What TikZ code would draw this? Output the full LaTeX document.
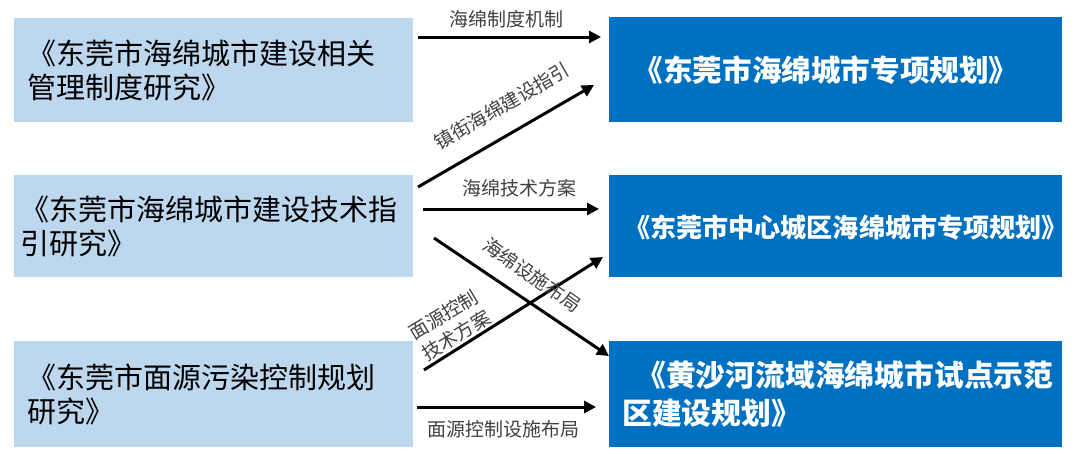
\documentclass[tikz,border=0pt]{standalone}
\usepackage{fontspec}
\setmainfont{Noto Sans CJK SC}
\usetikzlibrary{arrows.meta}
\definecolor{lightbox}{HTML}{BDD7EE}
\definecolor{darkbox}{HTML}{0070C0}
\definecolor{labelgray}{HTML}{404040}
\tikzset{
  srcbox/.style={rectangle, fill=lightbox, draw=none, minimum width=399pt, align=left, anchor=west,
    font=\fontsize{29}{34}\selectfont, text=black},
  dstbox/.style={rectangle, fill=darkbox, draw=none, minimum width=453pt, align=left,
    font=\fontsize{29.8}{38}\selectfont\bfseries, text=white},
  conn/.style={line width=3pt, -{Triangle[length=12pt,width=12pt]}},
  lbl/.style={inner sep=0pt, text=labelgray, font=\fontsize{19}{24}\selectfont}
}
\begin{document}
\begin{tikzpicture}[x=1pt,y=-1pt]
\useasboundingbox (0,0) rectangle (1080,453);
% source boxes
\node[srcbox, minimum height=104pt, inner xsep=13pt, text width=373pt] (L1) at (14,70)
  {《东莞市海绵城市建设相关\\管理制度研究》};
\node[srcbox, minimum height=102pt, inner xsep=6pt, text width=387pt] (L2) at (14,226)
  {《东莞市海绵城市建设技术指\\引研究》};
\node[srcbox, minimum height=106pt, inner xsep=13pt, text width=373pt] (L3) at (14,394)
  {《东莞市面源污染控制规划\\研究》};
% target boxes
\node[dstbox, minimum height=105pt] (R1) at (835.5,69.5) {};
\node[inner sep=0pt, text=white, font=\fontsize{29.6}{34}\selectfont\bfseries] (R1t) at (826,70) {《东莞市海绵城市专项规划》};
\node[dstbox, minimum height=102pt] (R2) at (835.5,226) {};
\node[inner sep=0pt, text=white, font=\fontsize{26.1}{30}\selectfont\bfseries] (R2t) at (846,228) {《东莞市中心城区海绵城市专项规划》};
\node[dstbox, minimum height=106pt, anchor=west, inner xsep=13pt, text width=427pt] (R3) at (609,394)
  {\hspace*{14pt}《黄沙河流域海绵城市试点示范\\区建设规划》};
% connector end points
\coordinate (a1s) at (418,37);  \coordinate (a1e) at (601,37);
\coordinate (a2s) at (418,187); \coordinate (a2e) at (594,85);
\coordinate (a3s) at (423,209); \coordinate (a3e) at (599,209);
\coordinate (a4s) at (434,238); \coordinate (a4e) at (609,356);
\coordinate (a5s) at (424,370); \coordinate (a5e) at (603,257);
\coordinate (a6s) at (417,407); \coordinate (a6e) at (596,407);
% connectors
\draw[conn] (a1s) -- (a1e);
\draw[conn] (a2s) -- (a2e);
\draw[conn] (a3s) -- (a3e);
\draw[conn] (a4s) -- (a4e);
\draw[conn] (a5s) -- (a5e);
\draw[conn] (a6s) -- (a6e);
% labels
\node[lbl] (t1) at (506,19) {海绵制度机制};
\node[lbl, rotate=30] (t2) at (502,106) {镇街海绵建设指引};
\node[lbl] (t3) at (519,188) {海绵技术方案};
\node[lbl, rotate=-35] (t4) at (532,275) {海绵设施布局};
\node[lbl, rotate=31, align=left] (t5) at (450,325) {面源控制\\技术方案};
\node[lbl] (t6) at (503,429) {面源控制设施布局};
\end{tikzpicture}
\end{document}
